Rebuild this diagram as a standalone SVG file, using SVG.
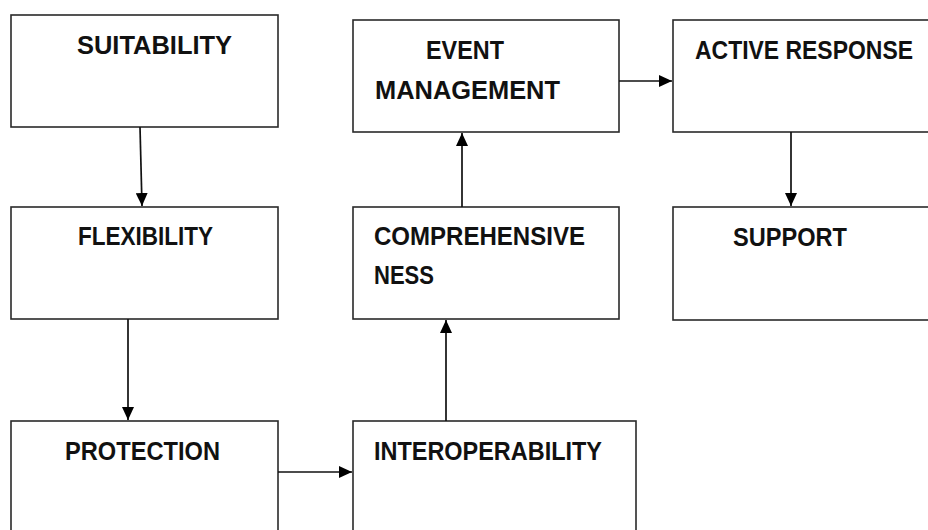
<svg xmlns="http://www.w3.org/2000/svg" width="928" height="530" viewBox="0 0 928 530">
<style>
.box{fill:#fff;stroke:#2a2a2a;stroke-width:1.6}
.lbl{font-family:"Liberation Sans",Arial,sans-serif;font-weight:bold;font-size:25.5px;fill:#111}
.conn{stroke:#111;stroke-width:1.7;fill:none;marker-end:url(#ah)}
</style>
<defs>
<marker id="ah" viewBox="0 0 13 12" refX="13" refY="6" markerWidth="13" markerHeight="12" markerUnits="userSpaceOnUse" orient="auto">
<path d="M0,0 L13,6 L0,12 Z" fill="#000"/>
</marker>
</defs>
<rect width="928" height="530" fill="#fff"/>
<g id="suitability"><rect class="box" x="11" y="15" width="267" height="112"/><text class="lbl" x="77" y="54" textLength="155" lengthAdjust="spacingAndGlyphs">SUITABILITY</text></g>
<g id="flexibility"><rect class="box" x="11" y="207" width="267" height="112"/><text class="lbl" x="78" y="245" textLength="135" lengthAdjust="spacingAndGlyphs">FLEXIBILITY</text></g>
<g id="protection"><rect class="box" x="11" y="421" width="267" height="130"/><text class="lbl" x="65" y="460" textLength="155" lengthAdjust="spacingAndGlyphs">PROTECTION</text></g>
<g id="interoperability"><rect class="box" x="353" y="421" width="283" height="130"/><text class="lbl" x="374" y="460" textLength="228" lengthAdjust="spacingAndGlyphs">INTEROPERABILITY</text></g>
<g id="comprehensiveness"><rect class="box" x="353" y="207" width="266" height="112"/><text class="lbl" x="374" y="245" textLength="211" lengthAdjust="spacingAndGlyphs">COMPREHENSIVE</text><text class="lbl" x="374" y="284" textLength="60" lengthAdjust="spacingAndGlyphs">NESS</text></g>
<g id="event-management"><rect class="box" x="353" y="20" width="266" height="112"/><text class="lbl" x="426" y="59" textLength="78" lengthAdjust="spacingAndGlyphs">EVENT</text><text class="lbl" x="375" y="99" textLength="185" lengthAdjust="spacingAndGlyphs">MANAGEMENT</text></g>
<g id="active-response"><rect class="box" x="673" y="20" width="280" height="112"/><text class="lbl" x="695" y="59" textLength="218" lengthAdjust="spacingAndGlyphs">ACTIVE RESPONSE</text></g>
<g id="support"><rect class="box" x="673" y="207" width="280" height="113"/><text class="lbl" x="733" y="246" textLength="114" lengthAdjust="spacingAndGlyphs">SUPPORT</text></g>
<g id="connectors">
<line class="conn" x1="140" y1="127" x2="142" y2="206"/>
<line class="conn" x1="128" y1="319" x2="128" y2="420"/>
<line class="conn" x1="278" y1="472" x2="352" y2="472"/>
<line class="conn" x1="446" y1="421" x2="446" y2="320"/>
<line class="conn" x1="462" y1="207" x2="462" y2="133"/>
<line class="conn" x1="619" y1="81" x2="672" y2="81"/>
<line class="conn" x1="791" y1="132" x2="791" y2="206"/>
</g>
</svg>
